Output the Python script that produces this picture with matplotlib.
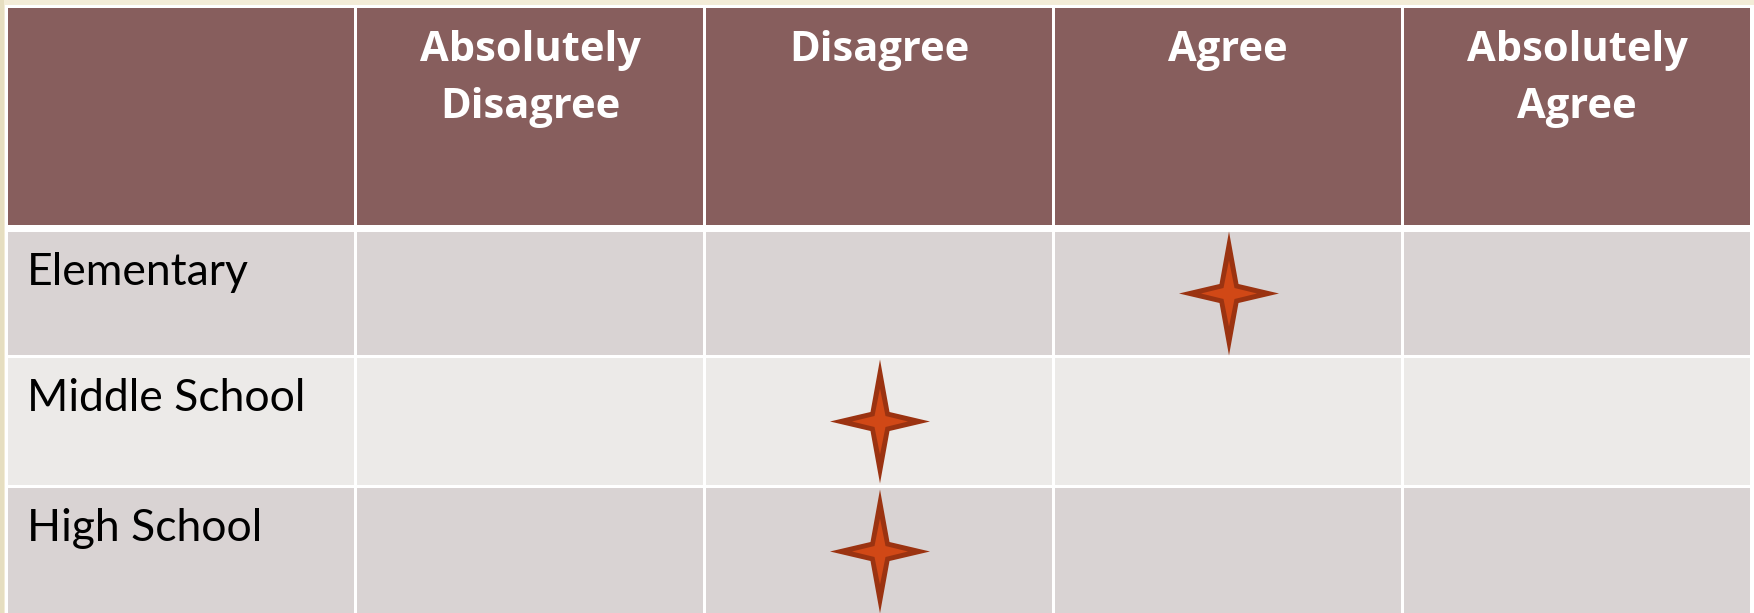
import numpy as np
import matplotlib.pyplot as plt
from matplotlib.patches import Rectangle, Polygon

# table content
columns = ['Absolutely\nDisagree', 'Disagree', 'Agree', 'Absolutely\nAgree']
levels = ['Elementary', 'Middle School', 'High School']
answers = ['Agree', 'Disagree', 'Disagree']

# colours
cream = '#F3ECD7'
header_col = '#875E5D'
row_cols = ['#D9D3D3', '#ECEAE8', '#D9D3D3']
star_dark = '#9B3311'
star_light = '#D14816'

# layout in pixels (figure is 1754 x 613)
W, H = 1754, 613
col_edges = [6.5, 355.5, 704.5, 1053.5, 1402.5, 1751.5]
row_tops = [232, 358, 488]
row_bottoms = [355, 485, 616]
head_top, head_bottom = 8, 225
gap = 1.5

fig = plt.figure(figsize=(W / 100, H / 100), dpi=100)
fig.patch.set_facecolor(cream)
ax = fig.add_axes([0, 0, 1, 1])
ax.set_xlim(0, W)
ax.set_ylim(H, 0)
ax.axis('off')

# thin darker strip on the left edge of the slide
ax.add_patch(Rectangle((0, 0), 4, H, color='#E6DEC0', lw=0))
# white frame behind the cells
ax.add_patch(Rectangle((4.5, 4.5), W - 4.5, H, color='white', lw=0))


def cell(x0, x1, y0, y1, color):
    ax.add_patch(Rectangle((x0, y0), x1 - x0, y1 - y0, color=color, lw=0))


def star(cx, cy, hw, hh, inner, color):
    pts = [(0, -hh), (inner, -inner), (hw, 0), (inner, inner),
           (0, hh), (-inner, inner), (-hw, 0), (-inner, -inner)]
    ax.add_patch(Polygon([(cx + px, cy + py) for px, py in pts],
                         closed=True, color=color, lw=0))


n_cols = len(columns) + 1
# header row
for i in range(n_cols):
    x0 = col_edges[i] + gap
    x1 = col_edges[i + 1] - gap
    cell(x0, x1, head_top, head_bottom, header_col)
    if i > 0:
        ax.text((x0 + x1) / 2, 30, columns[i - 1], ha='center', va='top',
                color='white', fontsize=30, fontweight='bold',
                family='Open Sans', linespacing=1.5, multialignment='center')

# body rows
for r, level in enumerate(levels):
    for i in range(n_cols):
        x0 = col_edges[i] + gap
        x1 = col_edges[i + 1] - gap
        cell(x0, x1, row_tops[r], row_bottoms[r], row_cols[r])
    ax.text(27, row_tops[r] + 53, level, ha='left', va='baseline',
            color='black', fontsize=32, family='Lato')

    c = columns.index(answers[r]) + 1
    cx = (col_edges[c] + col_edges[c + 1]) / 2 + 1
    cy = (row_tops[r] + min(row_bottoms[r], row_tops[r] + 127)) / 2
    star(cx, cy, 50, 62, 9.5, star_dark)
    star(cx, cy, 28, 33, 5.5, star_light)

fig.savefig('out.png', dpi=100, facecolor=fig.get_facecolor())
